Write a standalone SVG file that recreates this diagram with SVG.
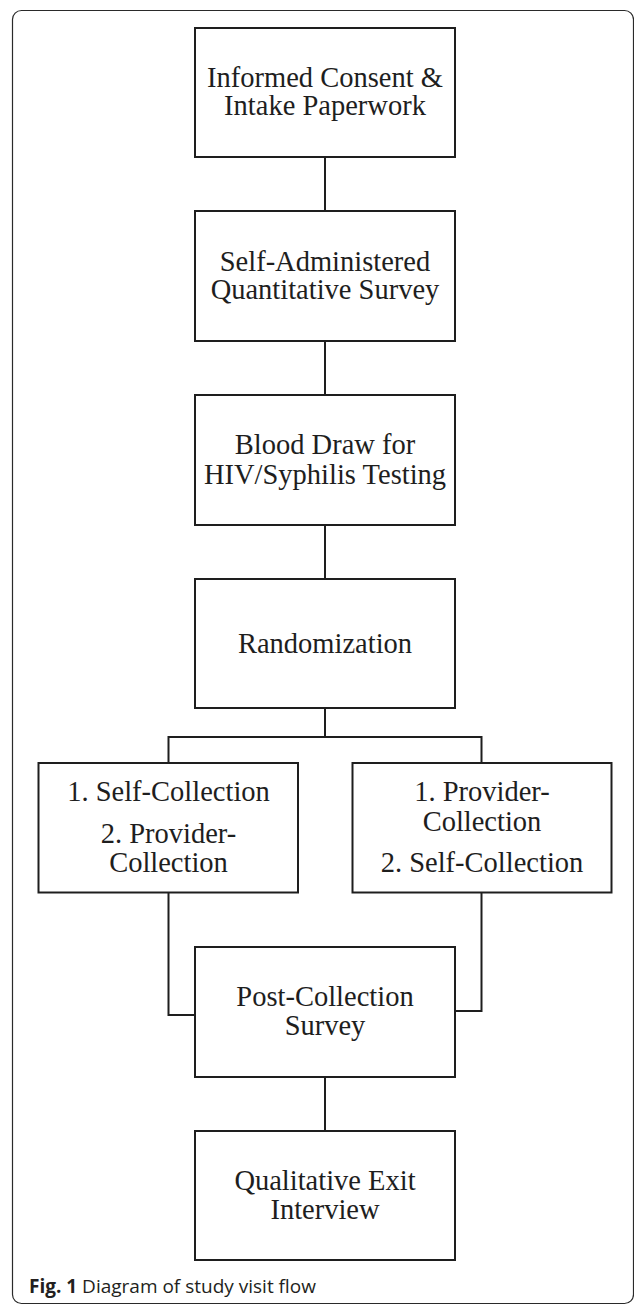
<svg xmlns="http://www.w3.org/2000/svg" width="634" height="1305" viewBox="0 0 634 1305">
  <style>
    .box { fill: #ffffff; stroke: #1e1e1e; stroke-width: 2; }
    .lbl { font-family: "Liberation Serif", "Times New Roman", serif; font-size: 28.5px; fill: #1e1e1e; text-anchor: middle; }
    .conn { fill: none; stroke: #1e1e1e; stroke-width: 2; }
    .cap { font-family: "Open Sans", "Noto Sans", sans-serif; font-size: 19px; fill: #231f20; }
  </style>
  <rect x="0" y="0" width="634" height="1305" fill="#ffffff"/>
  <rect id="frame" x="12.5" y="10.5" width="621" height="1293" rx="9" ry="9" fill="none" stroke="#2a2a2a" stroke-width="1.2"/>

  <g id="connectors">
    <line class="conn" x1="325" y1="157" x2="325" y2="211"/>
    <line class="conn" x1="325" y1="341" x2="325" y2="395"/>
    <line class="conn" x1="325" y1="525" x2="325" y2="579"/>
    <polyline class="conn" points="325,708 325,737"/>
    <polyline class="conn" points="168.5,763 168.5,737 481.5,737 481.5,763"/>
    <polyline class="conn" points="168.5,892 168.5,1015 195,1015"/>
    <polyline class="conn" points="481.5,892 481.5,1011 455,1011"/>
    <line class="conn" x1="325" y1="1077" x2="325" y2="1131"/>
  </g>

  <g id="n1">
    <rect class="box" x="195" y="28" width="260" height="129"/>
    <text class="lbl" x="325" y="87">Informed Consent &amp;</text>
    <text class="lbl" x="325" y="115">Intake Paperwork</text>
  </g>
  <g id="n2">
    <rect class="box" x="195" y="211" width="260" height="130"/>
    <text class="lbl" x="325" y="271">Self-Administered</text>
    <text class="lbl" x="325" y="299">Quantitative Survey</text>
  </g>
  <g id="n3">
    <rect class="box" x="195" y="395" width="260" height="130"/>
    <text class="lbl" x="325" y="454">Blood Draw for</text>
    <text class="lbl" x="325" y="484">HIV/Syphilis Testing</text>
  </g>
  <g id="n4">
    <rect class="box" x="195" y="579" width="260" height="129"/>
    <text class="lbl" x="325" y="653">Randomization</text>
  </g>
  <g id="n5">
    <rect class="box" x="38.5" y="763" width="259.5" height="129.5"/>
    <text class="lbl" x="168.5" y="801">1. Self-Collection</text>
    <text class="lbl" x="168.5" y="843">2. Provider-</text>
    <text class="lbl" x="168.5" y="872">Collection</text>
  </g>
  <g id="n6">
    <rect class="box" x="352.5" y="763" width="259" height="129.5"/>
    <text class="lbl" x="482" y="801">1. Provider-</text>
    <text class="lbl" x="482" y="831">Collection</text>
    <text class="lbl" x="482" y="872">2. Self-Collection</text>
  </g>
  <g id="n7">
    <rect class="box" x="195" y="947" width="260" height="130"/>
    <text class="lbl" x="325" y="1006">Post-Collection</text>
    <text class="lbl" x="325" y="1035">Survey</text>
  </g>
  <g id="n8">
    <rect class="box" x="195" y="1131" width="260" height="129"/>
    <text class="lbl" x="325" y="1190">Qualitative Exit</text>
    <text class="lbl" x="325" y="1219">Interview</text>
  </g>

  <text class="cap" x="29" y="1293"><tspan font-weight="bold">Fig. 1</tspan> Diagram of study visit flow</text>
</svg>
